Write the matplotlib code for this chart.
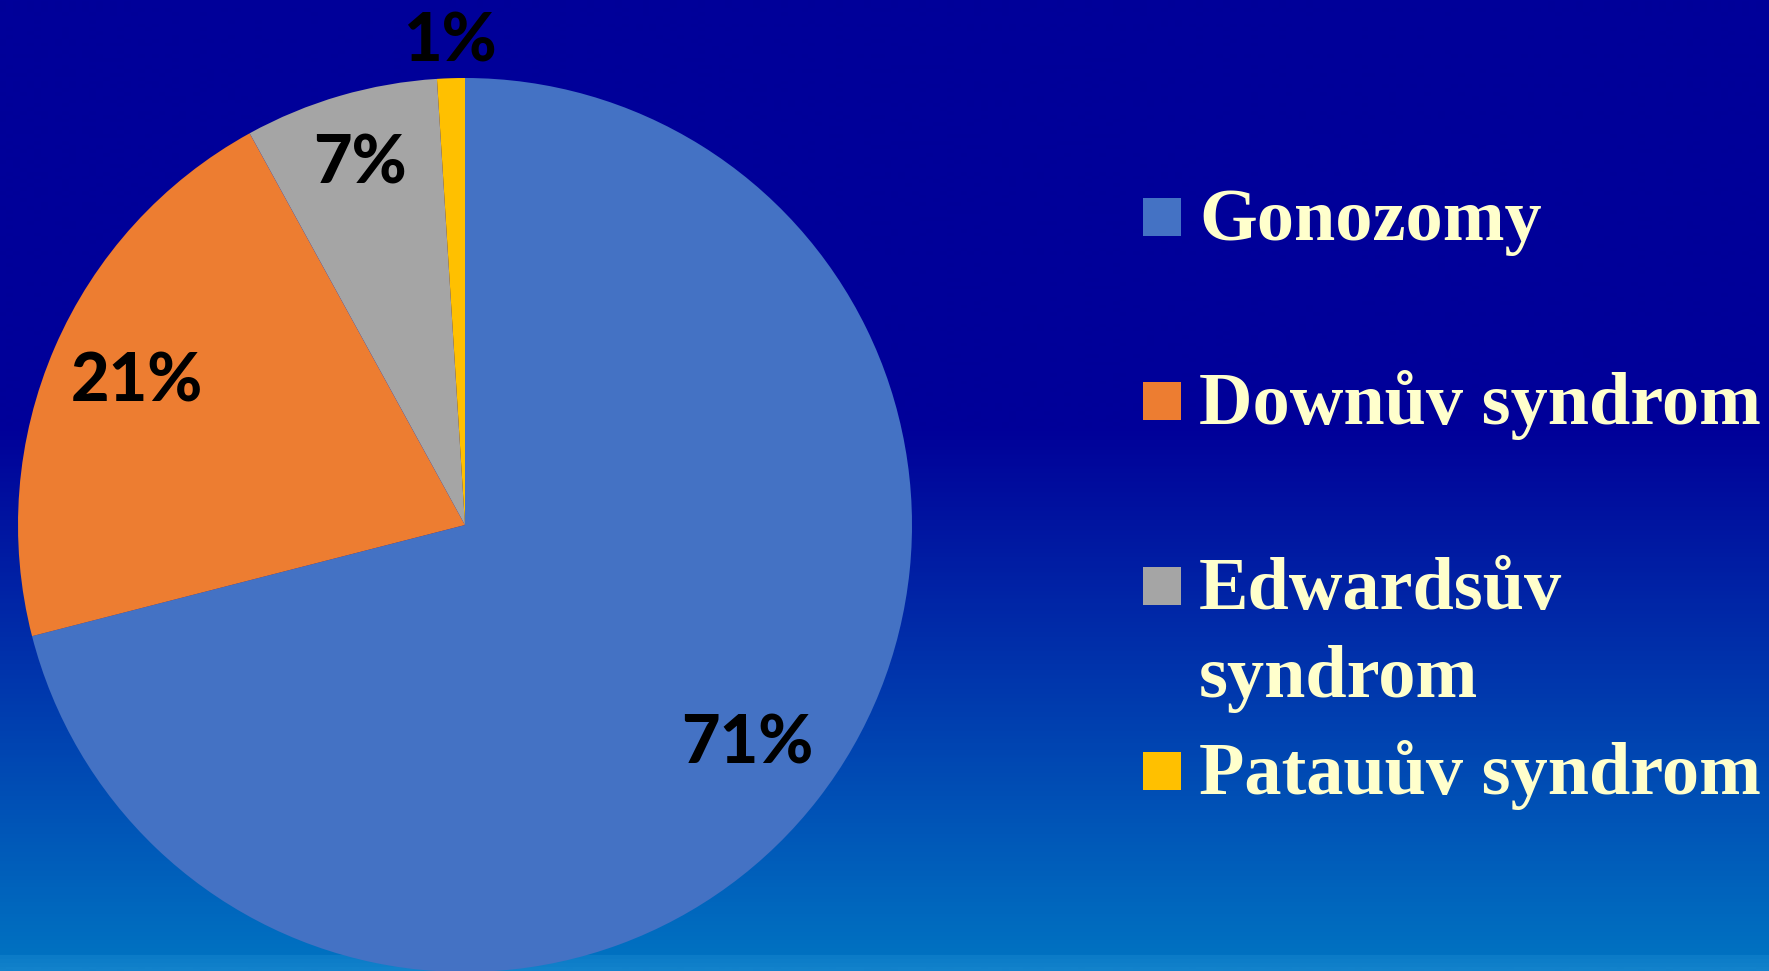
import numpy as np
import matplotlib
matplotlib.use("Agg")
import matplotlib.pyplot as plt
from matplotlib.patches import Rectangle
from matplotlib.colors import LinearSegmentedColormap

# ---- data ----
categories = ["Gonozomy", "Downův syndrom", "Edwardsův\nsyndrom", "Patauův syndrom"]
values = [71, 21, 7, 1]
pct_labels = ["71%", "21%", "7%", "1%"]

# ---- styles ----
colors = ["#4472C4", "#ED7D31", "#A5A5A5", "#FFC000"]
label_radius = [0.80, 0.80, 0.84, 1.08]

W, H, DPI = 1769, 971, 100
fig = plt.figure(figsize=(W / DPI, H / DPI), dpi=DPI)

# background gradient
bg = fig.add_axes([0, 0, 1, 1])
bg.set_axis_off()
cmap = LinearSegmentedColormap.from_list(
    "bg", [(0.0, "#000099"), (0.44, "#000099"), (0.985, "#0071C1"), (0.986, "#0A7AC7"), (1.0, "#1282CB")])
grad = np.linspace(0, 1, 971).reshape(-1, 1)
bg.imshow(grad, aspect="auto", cmap=cmap, extent=[0, 1, 1, 0], interpolation="bilinear")
bg.set_xlim(0, 1)
bg.set_ylim(1, 0)

# pie axes
cx, cy, r = 465, 525, 447
ax = fig.add_axes([(cx - r) / W, (H - cy - r) / H, 2 * r / W, 2 * r / H])
ax.set_axis_off()
wedges, _ = ax.pie(values, colors=colors, startangle=90, counterclock=False,
                   radius=1.0, wedgeprops=dict(linewidth=0))
ax.set_xlim(-1, 1)
ax.set_ylim(-1, 1)
ax.set_aspect("equal", adjustable="box")

for w, lab, rr in zip(wedges, pct_labels, label_radius):
    ang = np.deg2rad((w.theta1 + w.theta2) / 2)
    ax.text(rr * np.cos(ang), rr * np.sin(ang), lab, ha="center", va="center",
            fontsize=48, fontweight="black", family="Lato", color="black", clip_on=False)

# legend (manual, figure pixel coordinates)
sq = 38
sq_x = 1143
sq_centers = [217, 401, 586, 771]
line_step = 88
for cat, col, yc in zip(categories, colors, sq_centers):
    fig.patches.append(Rectangle((sq_x / W, (H - yc - sq / 2) / H), sq / W, sq / H,
                                 transform=fig.transFigure, facecolor=col, edgecolor="none"))
    for i, line in enumerate(cat.split("\n")):
        baseline = yc + 23 + i * line_step
        fig.text(1199 / W, (H - baseline) / H, line, ha="left", va="baseline",
                 fontsize=53.5, fontweight="bold", family="Liberation Serif", color="#FFFFCC")

fig.savefig("out.png", dpi=DPI)
